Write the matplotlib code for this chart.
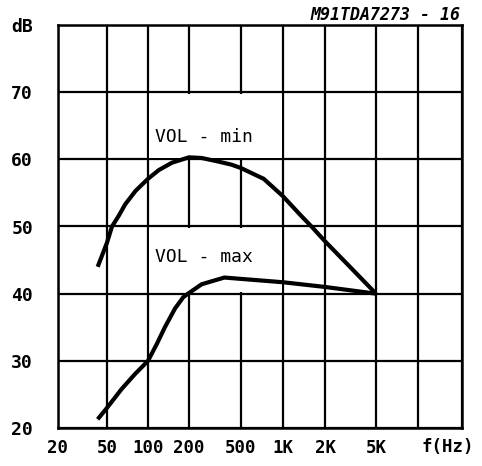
import numpy as np
import matplotlib
matplotlib.use("Agg")
import matplotlib.pyplot as plt
from matplotlib.patches import Rectangle
from matplotlib.ticker import FixedLocator, NullLocator

# ---- data ----
vol_min_f = [42, 50, 54.4, 61, 68, 81, 100, 120, 150, 200, 250, 330, 424,
             500, 727, 1000, 1320, 1600, 2000, 2950, 5000]
vol_min_db = [44.0, 47.6, 50.0, 51.6, 53.3, 55.3, 57.1, 58.4, 59.5, 60.3, 60.2, 59.7, 59.2,
              58.7, 57.1, 54.5, 51.8, 50.0, 47.8, 44.5, 40.0]

vol_max_f = [42, 50, 64, 80, 100, 116, 133, 158, 182, 200, 250, 373, 500, 1000, 2000, 5000]
vol_max_db = [21.3, 23.0, 25.8, 28.0, 30.0, 32.5, 35.0, 37.8, 39.5, 40.1, 41.4, 42.4, 42.2,
              41.7, 41.0, 40.0]

x_grid = [20, 50, 100, 200, 500, 1000, 2000, 5000, 10000, 20000]
x_labels = ["20", "50", "100", "200", "500", "1K", "2K", "5K", "", ""]
y_ticks = [20, 30, 40, 50, 60, 70, 80]
y_labels = ["20", "30", "40", "50", "60", "70", "dB"]

# plotter axis: near-log, positions of the printed grid lines
grid_pos = [0, 49, 90, 131, 183, 225, 267, 318, 360, 404]
lg = np.log10(x_grid)


def fwd(f):
    f = np.clip(np.asarray(f, dtype=float), 1e-6, None)
    return np.interp(np.log10(f), lg, grid_pos)


def inv(p):
    p = np.asarray(p, dtype=float)
    return 10 ** np.interp(p, grid_pos, lg)


mono = "DejaVu Sans Mono"
fig = plt.figure(figsize=(4.82, 4.66), dpi=100)
ax = fig.add_axes([58 / 482, 38 / 466, 404 / 482, 403 / 466])
ax.set_xscale("function", functions=(fwd, inv))
ax.set_xlim(20, 20000)
ax.set_ylim(20, 80)

ax.xaxis.set_major_locator(FixedLocator(x_grid))
ax.xaxis.set_minor_locator(NullLocator())
ax.set_xticklabels(x_labels)
ax.set_yticks(y_ticks)
ax.set_yticklabels(y_labels)
ax.yaxis.set_minor_locator(NullLocator())

ax.grid(True, which="major", color="black", linewidth=1.6, zorder=1)
ax.set_axisbelow(True)
for s in ax.spines.values():
    s.set_linewidth(1.8)
    s.set_color("black")

ax.tick_params(axis="both", length=0)
ax.tick_params(axis="x", pad=8)
ax.tick_params(axis="y", pad=18)
for lab in ax.get_xticklabels():
    lab.set_fontfamily(mono)
    lab.set_fontweight("bold")
    lab.set_fontsize(12.5)
for lab in ax.get_yticklabels():
    lab.set_fontfamily(mono)
    lab.set_fontweight("bold")
    lab.set_fontsize(13)

# white label boxes that mask the grid (as in the original)
for y0 in (40, 60):
    ax.add_patch(Rectangle((102.5, y0 + 0.22), 1000 / 1.025 - 102.5, 10 - 0.44,
                           facecolor="white", edgecolor="none", zorder=1.5))

ax.plot(vol_min_f, vol_min_db, color="black", linewidth=3.0,
        solid_capstyle="butt", solid_joinstyle="round", zorder=3)
ax.plot(vol_max_f, vol_max_db, color="black", linewidth=3.0,
        solid_capstyle="butt", solid_joinstyle="round", zorder=3)

ax.text(204 / 482, 1 - 137.5 / 466, "VOL - min", transform=fig.transFigure,
        ha="center", va="center", fontfamily=mono, fontsize=13, zorder=4)
ax.text(204 / 482, 1 - 257 / 466, "VOL - max", transform=fig.transFigure,
        ha="center", va="center", fontfamily=mono, fontsize=13, zorder=4)

fig.text(448 / 482, 1 - 446.5 / 466, "f(Hz)", ha="center", va="center",
         fontfamily=mono, fontweight="bold", fontsize=12.5)
fig.text(460 / 482, 1 - 15 / 466, "M91TDA7273 - 16", ha="right", va="center",
         fontfamily=mono, fontweight="bold", fontstyle="italic", fontsize=12)

fig.savefig("out.png", dpi=100, facecolor="white")
